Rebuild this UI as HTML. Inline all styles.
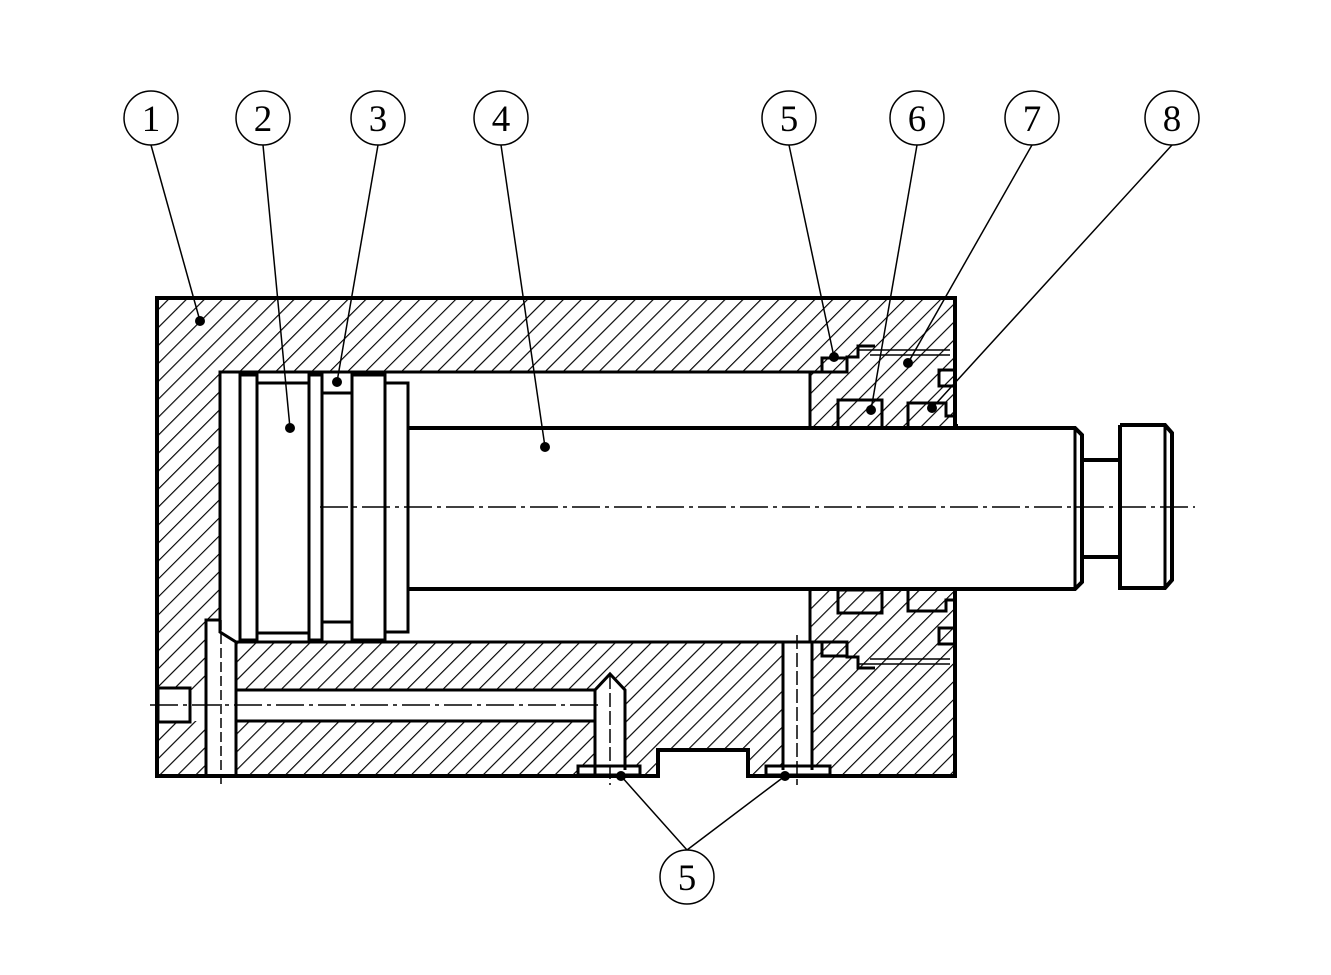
<!DOCTYPE html>
<html><head><meta charset="utf-8"><style>html,body{margin:0;padding:0;background:#fff}svg{display:block}</style></head>
<body>
<svg width="1331" height="975" viewBox="0 0 1331 975" xmlns="http://www.w3.org/2000/svg">
<defs>
<pattern id="h" width="12.7" height="12.7" patternUnits="userSpaceOnUse" patternTransform="rotate(45)">
<rect width="12.7" height="12.7" fill="#fff"/><line x1="0" y1="0" x2="0" y2="12.7" stroke="#000" stroke-width="2.3"/>
</pattern>
</defs>
<rect x="157" y="298" width="798" height="478" fill="url(#h)"/>
<g fill="#fff" stroke="none">
<rect x="220" y="372" width="590" height="270"/>
<rect x="810" y="428" width="146" height="162"/>
<rect x="190" y="690" width="412" height="31"/>
<rect x="206" y="620" width="30" height="156"/>
<polygon points="595,690 610,674 625,690 625,770 595,770"/>
<rect x="783" y="641" width="29" height="130"/>
<rect x="658" y="750" width="90" height="27"/>
<rect x="158" y="688" width="32" height="34"/>
<rect x="578" y="766" width="62" height="8"/>
<rect x="766" y="766" width="64" height="8"/>
</g>
<g fill="none" stroke="#000" stroke-width="4">
<polyline points="958,426 955,426 955,298 157,298 157,776 658,776 658,750 748,750 748,776 955,776 955,588"/>
</g>
<g fill="none" stroke="#000" stroke-width="3">
<polyline points="810,372 220,372 220,632 236,642 810,642"/>
<line x1="810" y1="372" x2="810" y2="428"/>
<line x1="810" y1="590" x2="810" y2="642"/>
<polyline points="206,776 206,620 220,620"/>
<line x1="236" y1="642" x2="236" y2="776"/>
<line x1="236" y1="690" x2="595" y2="690"/>
<line x1="236" y1="721" x2="595" y2="721"/>
<polyline points="595,776 595,690 610,674 625,690 625,770"/>
<polyline points="783,770 783,641"/><polyline points="812,641 812,770"/>
<rect x="578" y="766" width="62" height="9"/>
<rect x="766" y="766" width="64" height="9"/>
<rect x="158" y="688" width="32" height="34"/>
<rect x="240" y="375" width="17" height="265"/>
<rect x="257" y="383" width="52" height="250"/>
<rect x="309" y="375" width="13" height="265"/>
<rect x="322" y="393" width="30" height="229"/>
<rect x="352" y="375" width="33" height="265"/>
<rect x="385" y="383" width="23" height="249"/>
<polyline points="408,428 1075,428 1082,435 1082,582 1075,589 408,589" stroke-width="4"/>
<line x1="1075" y1="428" x2="1075" y2="589"/>
<polyline points="1082,460 1120,460" stroke-width="4"/><polyline points="1082,557 1120,557" stroke-width="4"/>
<polyline points="1120,425 1165,425 1172,433 1172,580 1165,588 1120,588 1120,425" stroke-width="4"/>
<line x1="1165" y1="425" x2="1165" y2="588"/>
<polyline points="810,372 847,372 847,357 858,357 858,346 875,346"/>
<polyline points="810,642 847,642 847,657 858,657 858,668 875,668"/>
<rect x="822" y="358" width="25" height="14"/>
<rect x="822" y="642" width="25" height="14"/>
<rect x="838" y="400" width="44" height="28"/>
<rect x="838" y="590" width="44" height="23"/>
<polyline points="908,428 908,403 946,403 946,416 955,416"/>
<polyline points="908,590 908,611 946,611 946,600 955,600"/>
<rect x="939" y="370" width="16" height="16"/>
<rect x="939" y="628" width="16" height="16"/>
</g>
<g stroke="#000" stroke-width="1.5" fill="none">
<line x1="858" y1="350" x2="950" y2="350"/><line x1="870" y1="355" x2="950" y2="355"/>
<line x1="858" y1="664" x2="950" y2="664"/><line x1="870" y1="659" x2="950" y2="659"/>
<line x1="320" y1="507" x2="1195" y2="507" stroke-dasharray="28,5,4,5"/>
<line x1="150" y1="705" x2="600" y2="705" stroke-dasharray="28,5,4,5"/>
<line x1="221" y1="620" x2="221" y2="785" stroke-dasharray="10,4"/>
<line x1="610" y1="675" x2="610" y2="785" stroke-dasharray="14,4"/>
<line x1="797" y1="635" x2="797" y2="785" stroke-dasharray="14,4"/>
<line x1="151" y1="145" x2="200" y2="321"/>
<line x1="263" y1="145" x2="290" y2="428"/>
<line x1="378" y1="145" x2="337" y2="382"/>
<line x1="501" y1="145" x2="545" y2="447"/>
<line x1="789" y1="145" x2="834" y2="357"/>
<line x1="917" y1="145" x2="871" y2="410"/>
<line x1="1032" y1="145" x2="908" y2="363"/>
<line x1="1172" y1="145" x2="932" y2="408"/>
<line x1="687" y1="850" x2="621" y2="776"/>
<line x1="687" y1="850" x2="785" y2="776"/>
<circle cx="151" cy="118" r="27"/><circle cx="263" cy="118" r="27"/><circle cx="378" cy="118" r="27"/><circle cx="501" cy="118" r="27"/>
<circle cx="789" cy="118" r="27"/><circle cx="917" cy="118" r="27"/><circle cx="1032" cy="118" r="27"/><circle cx="1172" cy="118" r="27"/>
<circle cx="687" cy="877" r="27"/>
</g>
<g fill="#000">
<circle cx="200" cy="321" r="5"/><circle cx="290" cy="428" r="5"/><circle cx="337" cy="382" r="5"/><circle cx="545" cy="447" r="5"/>
<circle cx="834" cy="357" r="5"/><circle cx="871" cy="410" r="5"/><circle cx="908" cy="363" r="5"/><circle cx="932" cy="408" r="5"/>
<circle cx="621" cy="776" r="5"/><circle cx="785" cy="776" r="5"/>
</g>
<g font-family="Liberation Serif, serif" font-size="37" text-anchor="middle" fill="#000">
<text x="151" y="131">1</text><text x="263" y="131">2</text><text x="378" y="131">3</text><text x="501" y="131">4</text>
<text x="789" y="131">5</text><text x="917" y="131">6</text><text x="1032" y="131">7</text><text x="1172" y="131">8</text>
<text x="687" y="890">5</text>
</g>
</svg>
</body></html>
